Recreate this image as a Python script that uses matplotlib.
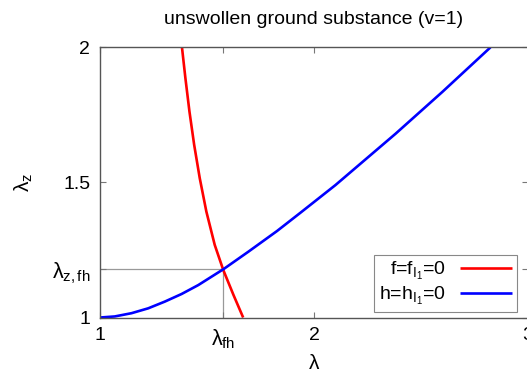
import matplotlib.pyplot as plt
import numpy as np

plt.rcParams['font.family'] = ['Liberation Sans', 'DejaVu Sans']
plt.rcParams['mathtext.fontset'] = 'custom'
plt.rcParams['mathtext.rm'] = 'Liberation Sans'
plt.rcParams['mathtext.it'] = 'Liberation Sans'
plt.rcParams['mathtext.bf'] = 'Liberation Sans'

# curve f = f_I1 = 0 (red)
lam_f = [1.383, 1.399, 1.418, 1.440, 1.466, 1.497, 1.536, 1.576, 1.624, 1.669]
lz_f = [2.0, 1.886, 1.762, 1.639, 1.516, 1.392, 1.269, 1.176, 1.083, 1.0]

# curve h = h_I1 = 0 (blue)
lam_h = [1.0, 1.069, 1.147, 1.225, 1.303, 1.381, 1.459, 1.577, 1.694, 1.827,
         1.937, 2.1, 2.381, 2.6, 2.825]
lz_h = [1.0, 1.004, 1.016, 1.034, 1.059, 1.087, 1.120, 1.179, 1.244, 1.320,
        1.388, 1.49, 1.68, 1.835, 2.0]

# crossing point
lam_fh = 1.576
lz_fh = 1.178

fig = plt.figure(figsize=(5.27, 3.74), dpi=100)
ax = fig.add_axes([0.1898, 0.151, 0.812, 0.7225])

ax.plot([1, lam_fh], [lz_fh, lz_fh], color='#999999', lw=0.9, zorder=1)
ax.plot([lam_fh, lam_fh], [1, lz_fh], color='#999999', lw=0.9, zorder=1)

ax.plot(lam_f, lz_f, color='#ff0000', lw=1.9, label=r'f=f$_{\mathrm{I}_1}$=0',
        solid_capstyle='butt', solid_joinstyle='round')
ax.plot(lam_h, lz_h, color='#0000ff', lw=1.9, label=r'h=h$_{\mathrm{I}_1}$=0',
        solid_capstyle='butt', solid_joinstyle='round')

ax.set_xlim(1, 3)
ax.set_ylim(1, 2)
ax.set_xticks([1, lam_fh, 2, 3])
ax.set_xticklabels(['1', r'$\lambda_{\mathrm{fh}}$', '2', '3'])
ax.set_yticks([1, lz_fh, 1.5, 2])
ax.set_yticklabels(['1', r'$\lambda_{\mathrm{z,fh}}$', '1.5', '2'])
ax.tick_params(direction='in', top=True, right=True, length=4, width=0.8,
               color='#777777', labelsize=14, pad=7)
for lab in ax.get_xticklabels()[1:2] + ax.get_yticklabels()[1:2]:
    lab.set_fontsize(15.5)
for s in ax.spines.values():
    s.set_color('#555555')
    s.set_linewidth(1.0)

ax.set_xlabel(r'$\lambda$', fontsize=15, labelpad=2)
ax.set_ylabel(r'$\lambda_{\mathrm{z}}$', fontsize=15, labelpad=12)
ax.set_title('unswollen ground substance (v=1)', fontsize=14, pad=17)

leg = ax.legend(loc='lower right', bbox_to_anchor=(1 - 11 / 428, 5.5 / 271),
                markerfirst=False, fontsize=14, fancybox=False,
                edgecolor='#888888', framealpha=1, handlelength=2.7,
                borderpad=0.25, labelspacing=0.15, handletextpad=0.7,
                borderaxespad=0)
leg.get_frame().set_linewidth(0.8)

fig.savefig('out.png', dpi=100)
